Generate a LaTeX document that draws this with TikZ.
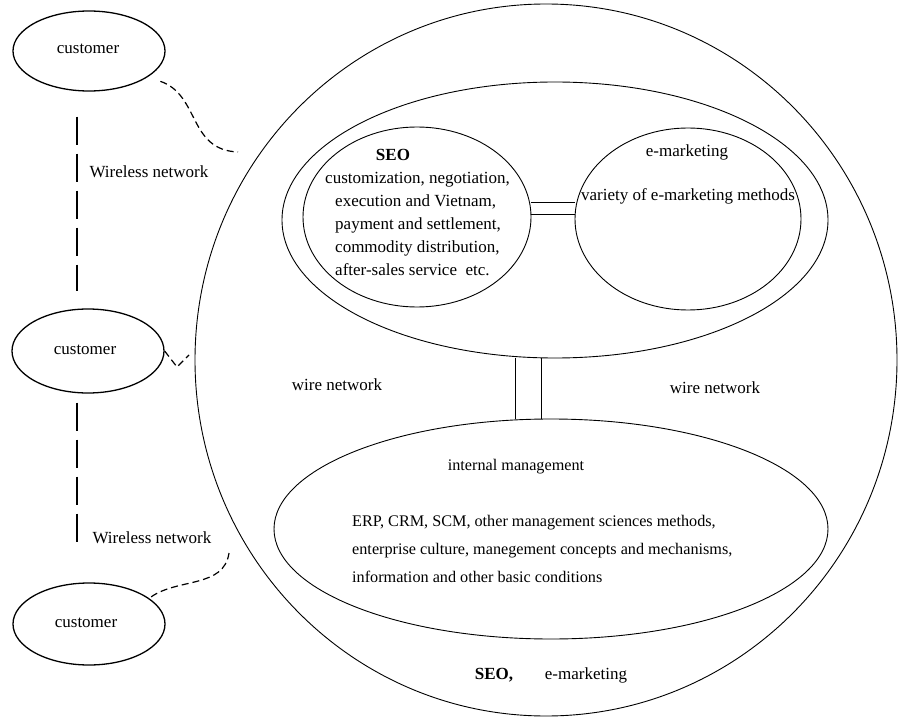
\documentclass[tikz,border=0pt]{standalone}
\usepackage{fontspec}
\setmainfont{Liberation Serif}
\usetikzlibrary{shapes.geometric}
\begin{document}
\begin{tikzpicture}[x=1pt,y=-1pt,
  oval/.style={draw, ellipse, inner sep=0pt, line width=0.9pt},
  cust/.style={draw, ellipse, inner sep=0pt, line width=1.3pt, minimum width=152pt, minimum height=80pt},
  lbl/.style={font=\fontsize{17}{23}\selectfont, inner sep=0pt},
  wl/.style={line width=2.6pt, dash pattern=on 28pt off 9pt},
  curvy/.style={line width=1.2pt, dash pattern=on 7pt off 4pt},
  link/.style={line width=1pt}]
\useasboundingbox (0,0) rectangle (899,719);
% ellipses
\node[oval, minimum width=702pt, minimum height=712pt] (outer) at (546,360) {};
\node[oval, minimum width=546pt, minimum height=276pt] (up) at (555,220) {};
\node[oval, minimum width=228pt, minimum height=180pt] (seo) at (417,217) {};
\node[oval, minimum width=226pt, minimum height=182pt] (emkt) at (688,219) {};
\node[oval, minimum width=554pt, minimum height=220pt] (im) at (551,529) {};
\node[cust] (c1) at (89,51) {};
\node[cust, minimum height=84pt] (c2) at (88,351) {};
\node[cust, minimum height=82pt] (c3) at (89,624) {};
% texts
\node[lbl] (t1) at (88,49) {customer};
\node[lbl] (t2) at (85,350) {customer};
\node[lbl] (t3) at (86,623) {customer};
\node[lbl] (w1) at (149,172) {Wireless network};
\node[lbl] (w2) at (152,538) {Wireless network};
\node[lbl, font=\fontsize{17}{23}\selectfont\bfseries] (seot) at (393,155) {SEO};
\node[lbl, align=left, anchor=west] (seol) at (335,224) {\hspace*{-10pt}customization, negotiation,\\execution and Vietnam,\\payment and settlement,\\commodity distribution,\\after-sales service\ \ etc.};
\node[lbl] (emt) at (687,152) {e-marketing};
\node[lbl] (eml) at (688,196) {variety of e-marketing methods};
\node[lbl] (wn1) at (337,385) {wire network};
\node[lbl] (wn2) at (715,388) {wire network};
\node[lbl, font=\fontsize{16.2}{23}\selectfont] (imt) at (516,467) {internal management};
\node[lbl, align=left, anchor=west, font=\fontsize{16.2}{28}\selectfont] (iml) at (352,549) {ERP, CRM, SCM, other management sciences methods,\\enterprise culture, manegement concepts and mechanisms,\\information and other basic conditions};
\node[lbl, font=\fontsize{17}{23}\selectfont\bfseries] (bs) at (494,675) {SEO,};
\node[lbl] (be) at (586,675) {e-marketing};
% links between ellipses
\draw[link] ([yshift=14pt]seo.east) -- ([yshift=14pt]seo.east -| emkt.west);
\draw[link] ([yshift=2pt]seo.east) -- ([yshift=2pt]seo.east -| emkt.west);
\draw[link] ([xshift=-40pt]up.south) -- ([xshift=-36pt]im.north);
\draw[link] ([xshift=-14pt]up.south) -- ([xshift=-10pt]im.north);
% wireless dashed vertical lines
\draw[wl] ([xshift=-12pt,yshift=-25pt]c1.south) -- ([xshift=-11pt,yshift=17pt]c2.north);
\draw[wl] ([xshift=-11pt,yshift=-9pt]c2.south) -- ([xshift=-12pt,yshift=33pt]c3.north);
% curvy dashed connectors
\coordinate (e1) at (238,152);
\coordinate (e2) at (189,355);
\coordinate (e3) at (229,553);
\draw[curvy] ([shift={(3pt,-12pt)}]c1.-15) .. controls (200,95) and (188,150) .. (e1);
\draw[curvy] (c2.east) -- (177,367) -- (e2);
\draw[curvy] ([xshift=4pt]c3.25) .. controls (178,578) and (224,588) .. (e3);
\end{tikzpicture}
\end{document}
